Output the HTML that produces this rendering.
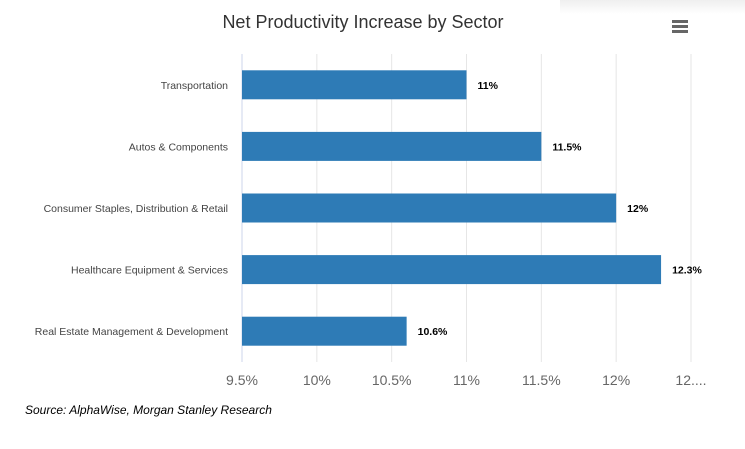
<!DOCTYPE html>
<html><head><meta charset="utf-8"><style>
body{margin:0;background:#fff;width:745px;height:444px;overflow:hidden;font-family:"Liberation Sans",sans-serif}
</style></head><body>
<svg width="745" height="444">
<defs><linearGradient id="sh" x1="0" y1="0" x2="0" y2="1"><stop offset="0" stop-color="#e4e4e4"/><stop offset="1" stop-color="#fff"/></linearGradient></defs>
<rect x="560" y="0" width="185" height="14" fill="url(#sh)" opacity="0.6"/>
<text x="363" y="28" text-anchor="middle" font-size="18" fill="#333">Net Productivity Increase by Sector</text>
<g fill="#666">
<rect x="672" y="20" width="16" height="3"/><rect x="672" y="25" width="16" height="3"/><rect x="672" y="30" width="16" height="3"/></g>
<g id="grid"></g><g id="bars"></g><g id="labels"></g>
<text x="25" y="414" font-size="12" font-style="italic" fill="#000">Source: AlphaWise, Morgan Stanley Research</text>
</svg>
<script>
const categories=["Transportation","Autos & Components","Consumer Staples, Distribution & Retail","Healthcare Equipment & Services","Real Estate Management & Development"];
const values=[11,11.5,12,12.3,10.6];
const valueLabels=["11%","11.5%","12%","12.3%","10.6%"];
const ticks=[9.5,10,10.5,11,11.5,12,12.5];
const tickLabels=["9.5%","10%","10.5%","11%","11.5%","12%","12...."];
const NS="http://www.w3.org/2000/svg";
const x0=242,x1=691,plotTop=54,plotBot=362,minV=9.5,maxV=12.5;
const xs=v=>x0+(v-minV)/(maxV-minV)*(x1-x0);
const band=(plotBot-plotTop)/categories.length;
function mk(t,a,p){const e=document.createElementNS(NS,t);for(const k in a)e.setAttribute(k,a[k]);p.appendChild(e);return e;}
const g=document.getElementById('grid'),b=document.getElementById('bars'),l=document.getElementById('labels');
ticks.forEach((t,i)=>{
 const ln=mk('line',{x1:xs(t),x2:xs(t),y1:plotTop,y2:plotBot,stroke:i==0?'#ccd6eb':'#e6e6e6','stroke-width':1},g);
 
 
 const tx=mk('text',{x:xs(t),y:385,'text-anchor':'middle','font-size':14,fill:'#666'},g);
 tx.textContent=tickLabels[i];
 
 
});
categories.forEach((c,i)=>{
 const cy=plotTop+band*(i+0.5);
 const r=mk('rect',{x:x0,y:cy-14.5,width:xs(values[i])-x0,height:29,fill:'#2e7bb6'},b);
 
 
 const t=mk('text',{x:228,y:cy+4,'text-anchor':'end','font-size':10.5,fill:'#444'},l);
 t.textContent=c;
 
 
 const v=mk('text',{x:xs(values[i])+11,y:cy+4,'font-size':10.5,'font-weight':'bold',fill:'#000'},l);
 v.textContent=valueLabels[i];
 
 
});
</script>
</body></html>
